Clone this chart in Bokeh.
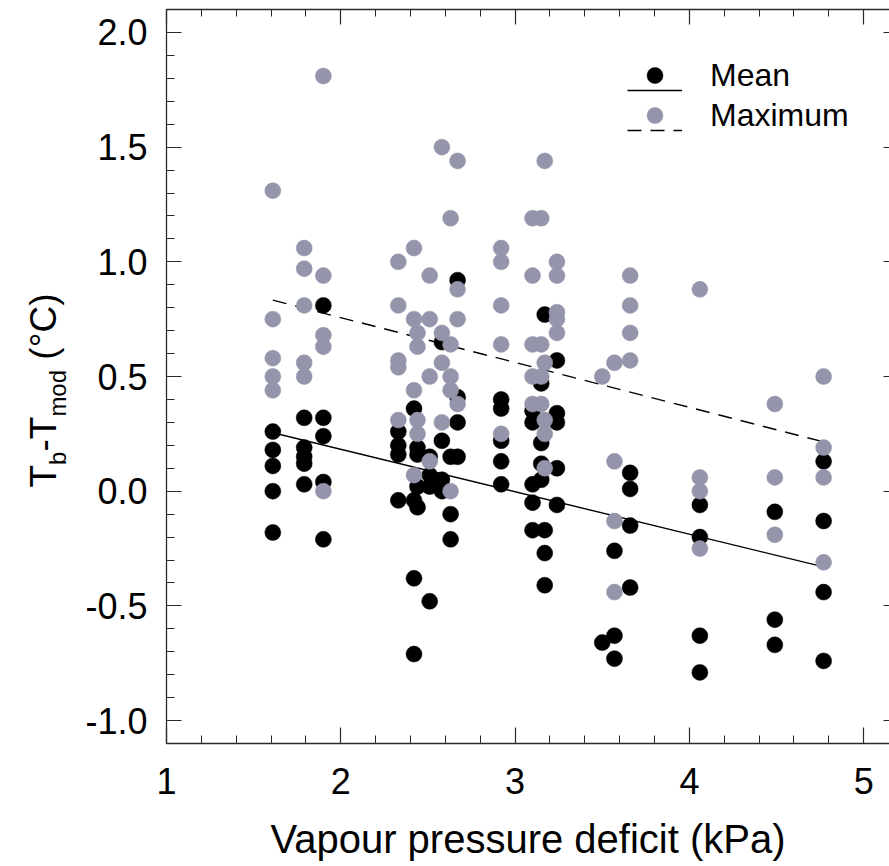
import math
from bokeh.plotting import figure
from bokeh.layouts import row
from bokeh.core.properties import value
from bokeh.models import (LinearAxis, FixedTicker, Legend, LegendItem, Range1d,
                          PrintfTickFormatter)
from bokeh.embed import file_html
from bokeh.resources import INLINE

# ---------------- data ----------------
mean_vpd = [
    1.61, 1.61, 1.61, 1.61, 1.61,
    1.79, 1.79, 1.79, 1.79, 1.79,
    1.90, 1.90, 1.90, 1.90, 1.90,
    2.33, 2.33, 2.33, 2.33,
    2.42, 2.42, 2.42, 2.42,
    2.44, 2.44, 2.44, 2.44,
    2.51, 2.51, 2.51, 2.51,
    2.58, 2.58, 2.58, 2.58,
    2.63, 2.63, 2.63,
    2.67, 2.67, 2.67, 2.67,
    2.92, 2.92, 2.92, 2.92, 2.92,
    3.10, 3.10, 3.10, 3.10, 3.10,
    3.15, 3.15, 3.15, 3.15,
    3.17, 3.17, 3.17, 3.17,
    3.24, 3.24, 3.24, 3.24, 3.24,
    3.50,
    3.57, 3.57, 3.57,
    3.66, 3.66, 3.66, 3.66,
    4.06, 4.06, 4.06, 4.06,
    4.49, 4.49, 4.49,
    4.77, 4.77, 4.77, 4.77,
]
mean_dt = [
    0.26, 0.18, 0.11, 0.00, -0.18,
    0.32, 0.19, 0.15, 0.12, 0.03,
    0.81, 0.32, 0.24, 0.04, -0.21,
    0.26, 0.20, 0.16, -0.04,
    0.36, -0.04, -0.38, -0.71,
    0.19, 0.16, 0.02, -0.07,
    0.15, 0.07, 0.02, -0.48,
    0.65, 0.22, 0.05, 0.00,
    0.15, -0.10, -0.21,
    0.92, 0.41, 0.30, 0.15,
    0.40, 0.36, 0.22, 0.13, 0.03,
    0.35, 0.30, 0.03, -0.05, -0.17,
    0.47, 0.21, 0.12, 0.05,
    0.77, -0.17, -0.27, -0.41,
    0.57, 0.34, 0.30, 0.10, -0.06,
    -0.66,
    -0.26, -0.63, -0.73,
    0.08, 0.01, -0.15, -0.42,
    -0.06, -0.20, -0.63, -0.79,
    -0.09, -0.56, -0.67,
    0.13, -0.13, -0.44, -0.74,
]
max_vpd = [
    1.61, 1.61, 1.61, 1.61, 1.61,
    1.79, 1.79, 1.79, 1.79, 1.79,
    1.90, 1.90, 1.90, 1.90, 1.90,
    2.33, 2.33, 2.33, 2.33, 2.33,
    2.42, 2.42, 2.42, 2.42,
    2.44, 2.44, 2.44, 2.44,
    2.51, 2.51, 2.51, 2.51,
    2.58, 2.58, 2.58, 2.58,
    2.63, 2.63, 2.63, 2.63, 2.63,
    2.67, 2.67, 2.67, 2.67,
    2.92, 2.92, 2.92, 2.92, 2.92,
    3.10, 3.10, 3.10, 3.10, 3.10,
    3.15, 3.15, 3.15, 3.15,
    3.17, 3.17, 3.17, 3.17, 3.17,
    3.24, 3.24, 3.24, 3.24, 3.24,
    3.50,
    3.57, 3.57, 3.57, 3.57,
    3.66, 3.66, 3.66, 3.66,
    4.06, 4.06, 4.06, 4.06,
    4.49, 4.49, 4.49,
    4.77, 4.77, 4.77, 4.77,
]
max_dt = [
    1.31, 0.75, 0.58, 0.50, 0.44,
    1.06, 0.97, 0.81, 0.56, 0.50,
    1.81, 0.94, 0.68, 0.63, 0.00,
    1.00, 0.81, 0.57, 0.54, 0.31,
    1.06, 0.75, 0.44, 0.07,
    0.69, 0.63, 0.31, 0.25,
    0.94, 0.75, 0.50, 0.13,
    1.50, 0.69, 0.56, 0.30,
    1.19, 0.64, 0.50, 0.44, 0.00,
    1.44, 0.88, 0.75, 0.38,
    1.06, 1.00, 0.81, 0.64, 0.25,
    1.19, 0.94, 0.64, 0.50, 0.38,
    1.19, 0.64, 0.50, 0.38,
    1.44, 0.56, 0.31, 0.25, 0.10,
    1.00, 0.94, 0.78, 0.75, 0.69,
    0.50,
    0.56, 0.13, -0.13, -0.44,
    0.94, 0.81, 0.69, 0.57,
    0.88, 0.06, 0.00, -0.25,
    0.38, 0.06, -0.19,
    0.50, 0.19, 0.06, -0.31,
]
# regression lines (end points)
fit_vpd = [1.61, 4.77]
fit_mean = [0.255, -0.33]
fit_max = [0.833, 0.215]

x_major = [1, 2, 3, 4, 5]
x_minor = [1.2, 1.4, 1.6, 1.8, 2.2, 2.4, 2.6, 2.8, 3.2, 3.4, 3.6, 3.8,
           4.2, 4.4, 4.6, 4.8, 5.2]
y_major = [-1.0, -0.5, 0.0, 0.5, 1.0, 1.5, 2.0]
y_minor = [-1.1, -0.9, -0.8, -0.7, -0.6, -0.4, -0.3, -0.2, -0.1, 0.1, 0.2, 0.3, 0.4,
           0.6, 0.7, 0.8, 0.9, 1.1, 1.2, 1.3, 1.4, 1.6, 1.7, 1.8, 1.9, 2.1]

x_title = "Vapour pressure deficit (kPa)"
# y title "T_b-T_mod (°C)" as (text, is_subscript, advance in em before next piece)
y_title_pieces = [("T", False, 0.611), ("b", True, 0.556), ("-T", False, 0.944),
                  ("mod", True, 1.945), ("(°C)", False, 1.788)]
series_names = ["Mean", "Maximum"]

FONT = "Liberation Sans"
BLACK = "#000000"
GREY = "#9494ab"
AX = "#2a2a2a"

W, H = 889, 866
LW = 70                                   # width of the strip that holds the y title
ML, MR, MT, MB = 166 - LW, 0, 9, 123
Y0, Y1 = -1.1, 2.1
PPU = (H - MT - MB) / (Y1 - Y0)           # pixels per y unit


def cy(py):
    """canvas pixel row -> y data value (for placing the title only)"""
    return Y0 + (H - MB - py) / PPU


y_range = Range1d(Y0, Y1)

# ---------------- y title strip (shares the plot's vertical frame) ----------------
ylab = figure(width=LW, height=H, x_range=Range1d(0, LW), y_range=y_range,
              output_backend="svg", toolbar_location=None,
              min_border_left=0, min_border_right=0, min_border_top=MT, min_border_bottom=MB,
              x_axis_type=None, y_axis_type=None)
ylab.outline_line_color = None
ylab.grid.visible = False
ylab.background_fill_color = "white"
ylab.border_fill_color = "white"

main_fs, sub_fs = 37, 24
base_main, base_sub = 43, 57          # x of the baselines (px from left)
pos = 487                             # canvas row where the title starts (reads upward)
for txt, sub, adv in y_title_pieces:
    fs = sub_fs if sub else main_fs
    if txt.startswith("("):
        pos -= 0.278 * main_fs        # word space before the unit
    ylab.text(x=[base_sub if sub else base_main], y=[cy(pos)], text=[txt],
              angle=math.pi / 2, text_align="left", text_baseline="alphabetic",
              text_font=value(FONT), text_font_size=value(f"{fs}px"), text_color="black")
    pos -= adv * fs

# ---------------- main plot ----------------
p = figure(width=W - LW, height=H, x_range=Range1d(1.0, 5.148), y_range=y_range,
           output_backend="svg", toolbar_location=None,
           min_border_left=ML, min_border_right=MR, min_border_top=MT, min_border_bottom=MB,
           x_axis_type=None, y_axis_type=None)
p.outline_line_color = None
p.background_fill_color = "white"
p.border_fill_color = "white"


def style(ax, major_in, minor_in):
    ax.axis_line_color = AX
    ax.axis_line_width = 1.3
    ax.major_tick_line_color = AX
    ax.minor_tick_line_color = AX
    ax.major_tick_line_width = 1.2
    ax.minor_tick_line_width = 1.0
    ax.major_tick_in = major_in
    ax.major_tick_out = 0
    ax.minor_tick_in = minor_in
    ax.minor_tick_out = 0
    ax.major_label_text_font = FONT
    ax.major_label_text_font_size = "36px"
    ax.major_label_text_color = "black"


xb = LinearAxis(ticker=FixedTicker(ticks=x_major, minor_ticks=x_minor),
                formatter=PrintfTickFormatter(format="%d"))
style(xb, 16, 8)
xb.major_label_standoff = 24
xb.axis_label = x_title
xb.axis_label_text_font = FONT
xb.axis_label_text_font_size = "40px"
xb.axis_label_text_font_style = "normal"
xb.axis_label_text_color = "black"
xb.axis_label_standoff = 20
p.add_layout(xb, "below")

yl = LinearAxis(ticker=FixedTicker(ticks=y_major, minor_ticks=y_minor),
                formatter=PrintfTickFormatter(format="%.1f"))
style(yl, 15, 8)
yl.major_label_standoff = 19
p.add_layout(yl, "left")

xt = LinearAxis(ticker=FixedTicker(ticks=x_major, minor_ticks=x_minor))
style(xt, 15, 7)
xt.major_label_text_font_size = "1px"
xt.major_label_text_color = None
xt.major_label_standoff = 0
p.add_layout(xt, "above")

yr = LinearAxis(ticker=FixedTicker(ticks=y_major, minor_ticks=[]))
style(yr, 6, 0)
yr.axis_line_color = None
yr.major_label_text_font_size = "1px"
yr.major_label_text_color = None
yr.major_label_standoff = 0
p.add_layout(yr, "right")

# regression lines
mean_line = p.line(fit_vpd, fit_mean, line_color="black", line_width=1.4)
max_line = p.line(fit_vpd, fit_max, line_color="black", line_width=1.4, line_dash="14 9")

# points
mean_pts = p.scatter(mean_vpd, mean_dt, marker="circle", size=16, fill_color=BLACK,
                     line_color=BLACK, line_width=0.5)
max_pts = p.scatter(max_vpd, max_dt, marker="circle", size=16, fill_color=GREY,
                    line_color=GREY, line_width=0.5)

legend_style = dict(orientation="vertical", glyph_width=55, glyph_height=40,
                    label_height=30, spacing=0, label_standoff=28, padding=0, margin=0,
                    label_text_font=FONT, label_text_font_size="32px",
                    background_fill_alpha=0, border_line_color=None)
# markers with their labels
legend_pts = Legend(items=[LegendItem(label=series_names[0], renderers=[mean_pts]),
                           LegendItem(label=series_names[1], renderers=[max_pts])],
                    location=(461, 608), label_text_color="black", **legend_style)
# line keys sit just below the markers (they carry no text of their own)
legend_lines = Legend(items=[LegendItem(label="", renderers=[mean_line]),
                             LegendItem(label="", renderers=[max_line])],
                      location=(461, 593), label_text_color=None, **legend_style)
p.add_layout(legend_lines)
p.add_layout(legend_pts)

layout = row(ylab, p, spacing=0)
open("out.html", "w").write(file_html(layout, INLINE))
